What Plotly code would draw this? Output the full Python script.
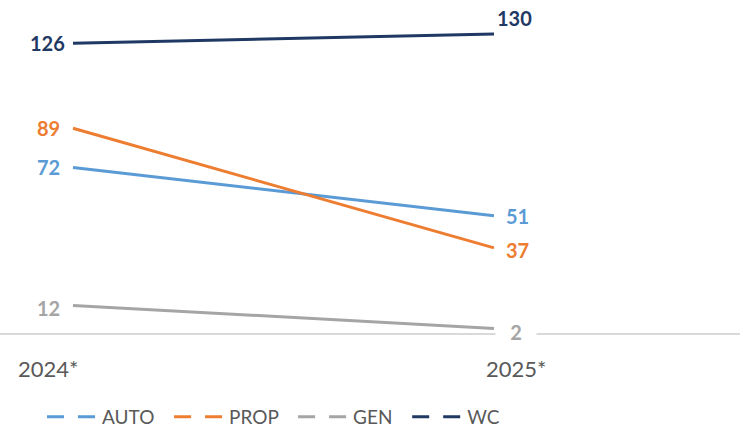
import plotly.graph_objects as go

categories = ["2024*", "2025*"]
series_names = ["AUTO", "PROP", "GEN", "WC"]
auto_vals = [72, 51]
prop_vals = [89, 37]
gen_vals = [12, 2]
wc_vals = [126, 130]

colors = {"AUTO": "#5B9BD5", "PROP": "#ED7D31", "GEN": "#A5A5A5", "WC": "#1F3864"}
values = {"AUTO": auto_vals, "PROP": prop_vals, "GEN": gen_vals, "WC": wc_vals}

FONT = "Lato, 'Open Sans', sans-serif"
xpos = [0, 1]

fig = go.Figure()

# series lines
for name in series_names:
    fig.add_trace(go.Scatter(
        x=xpos, y=values[name], mode="lines",
        line=dict(color=colors[name], width=3),
        showlegend=False, hoverinfo="skip", cliponaxis=False,
    ))

# legend entries (Excel-style dashed icon)
for name in series_names:
    fig.add_trace(go.Scatter(
        x=[None], y=[None], mode="lines", name=name + "\u00a0\u00a0",
        line=dict(color=colors[name], width=3, dash="17px,14px"),
        showlegend=True,
    ))

# data labels: (left xshift, left yshift, right xshift, right yshift)
label_style = {
    "WC": (-6, 0, 1, 16),
    "PROP": (-11, 0, 10, -2),
    "AUTO": (-11, 0, 10, 0),
    "GEN": (-11, -3, 22, -4),
}
for name in series_names:
    lx, ly, rx, ry = label_style[name]
    v = values[name]
    fig.add_annotation(x=xpos[0], y=v[0], text=f"<b>{v[0]}</b>", showarrow=False,
                       xanchor="right", yanchor="middle", xshift=lx, yshift=ly,
                       font=dict(family=FONT, size=20, color=colors[name]))
    if name == "GEN":
        fig.add_annotation(x=xpos[1], y=v[1], text=f"<b>{v[1]}</b>", showarrow=False,
                           xanchor="center", yanchor="middle", xshift=rx, yshift=ry,
                           width=38, bgcolor="white",
                           font=dict(family=FONT, size=20, color=colors[name]))
    else:
        fig.add_annotation(x=xpos[1], y=v[1], text=f"<b>{v[1]}</b>", showarrow=False,
                           xanchor="left", yanchor="middle", xshift=rx, yshift=ry,
                           font=dict(family=FONT, size=20, color=colors[name]))

# category labels
cat_shift = [-25, 22]
for i, c in enumerate(categories):
    fig.add_annotation(x=xpos[i], y=0, yref="paper", text=c, showarrow=False,
                       xanchor="center", yanchor="middle", xshift=cat_shift[i], yshift=-35,
                       font=dict(family=FONT, size=22, color="#595959"))

fig.update_layout(
    width=740, height=428,
    margin=dict(l=0, r=0, t=0, b=95),
    paper_bgcolor="white", plot_bgcolor="white",
    xaxis=dict(range=[-73/421, 667/421], showgrid=False, zeroline=False,
               showticklabels=False, showline=True, linecolor="#D9D9D9", linewidth=1.5,
               fixedrange=True),
    yaxis=dict(range=[0, 333/2.30], visible=False, fixedrange=True),
    legend=dict(orientation="h", xref="container", yref="container",
                x=42/740, xanchor="left", y=1 - 417/428, yanchor="middle",
                font=dict(family=FONT, size=19, color="#595959"),
                itemwidth=50, tracegroupgap=0, bgcolor="rgba(0,0,0,0)"),
    font=dict(family=FONT),
)

fig.write_html("out.html", post_script="document.body.style.margin='0';",
               config={"displayModeBar": False})
